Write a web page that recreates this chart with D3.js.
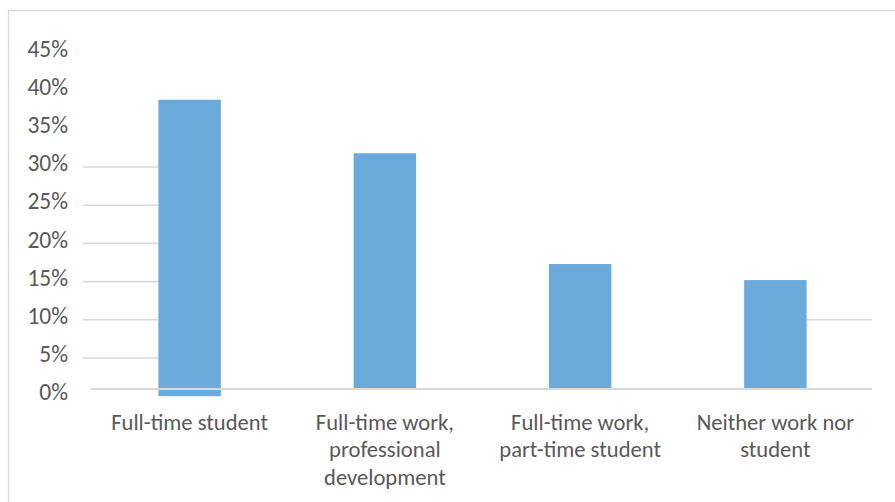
<!DOCTYPE html>
<html>
<head>
<meta charset="utf-8">
<script src="https://cdn.jsdelivr.net/npm/d3@7"></script>
<style>
  html, body { margin: 0; padding: 0; background: #fff; }
  svg { display: block; }
  text { font-family: Carlito, Lato, "Open Sans", sans-serif; fill: #595959; }
</style>
</head>
<body>
<svg id="chart" width="895" height="502"></svg>
<script>
// Share of respondents by current activity
const categories = [
  ["Full-time student"],
  ["Full-time work,", "professional", "development"],
  ["Full-time work,", "part-time student"],
  ["Neither work nor", "student"]
];
const shares = [0.388, 0.318, 0.173, 0.152];
const tickValues = [0, 0.05, 0.10, 0.15, 0.20, 0.25, 0.30, 0.35, 0.40, 0.45];
const gridTicks = [0.05, 0.10, 0.15, 0.20, 0.25, 0.30];

const svg = d3.select("#chart");
const W = 895, H = 502;

const plot = { left: 92, right: 873, top: 52.4, bottom: 396.2 };
const baselineY = 389;

const x = d3.scaleBand()
  .domain(d3.range(categories.length))
  .range([plot.left, plot.right])
  .paddingInner(0.68)
  .paddingOuter(0.34);

const y = d3.scaleLinear()
  .domain([0, 0.45])
  .range([plot.bottom, plot.top]);

// chart area frame (top and left edges visible)
svg.append("path")
  .attr("d", `M8.5,${H} V10.5 H${W}`)
  .attr("fill", "none")
  .attr("stroke", "#d9d9d9")
  .attr("stroke-width", 1.5);

// horizontal gridlines, left of the first column
const firstLeft = x(0);
svg.append("g").selectAll("line")
  .data(gridTicks)
  .join("line")
  .attr("x1", 83).attr("x2", firstLeft)
  .attr("y1", d => y(d)).attr("y2", d => y(d))
  .attr("stroke", "#d9d9d9")
  .attr("stroke-width", 1.6);

// short gridline segment right of the last column
const lastRight = x(categories.length - 1) + x.bandwidth();
svg.append("line")
  .attr("x1", lastRight).attr("x2", plot.right - 1)
  .attr("y1", y(0.10)).attr("y2", y(0.10))
  .attr("stroke", "#d9d9d9")
  .attr("stroke-width", 1.6);

// columns
svg.append("g").selectAll("rect")
  .data(shares)
  .join("rect")
  .attr("x", (d, i) => x(i))
  .attr("width", x.bandwidth())
  .attr("y", d => y(d))
  .attr("height", (d, i) => (i === 0 ? y(0) : baselineY - 1) - y(d))
  .attr("fill", "#6aabdb");

// category axis line
svg.append("line")
  .attr("x1", plot.left - 1).attr("x2", plot.right - 1)
  .attr("y1", baselineY).attr("y2", baselineY)
  .attr("stroke", "#d9d9d9")
  .attr("stroke-width", 2);

// value axis labels
const yAxis = d3.axisLeft(y)
  .tickValues(tickValues)
  .tickFormat(d3.format(".0%"))
  .tickSize(0)
  .tickPadding(0);
const yg = svg.append("g").attr("transform", "translate(68,0)").call(yAxis);
yg.select(".domain").remove();
yg.selectAll("text")
  .attr("dy", "0.35em")
  .attr("y", -4.5)
  .attr("fill", "#595959")
  .style("font-size", "23.5px")
  .style("font-family", "Carlito, Lato, 'Open Sans', sans-serif");

// category labels
const labels = svg.append("g").selectAll("text")
  .data(categories)
  .join("text")
  .attr("text-anchor", "middle")
  .attr("x", (d, i) => x(i) + x.bandwidth() / 2)
  .attr("y", 429.5)
  .style("font-size", "22.6px");
labels.selectAll("tspan")
  .data(d => d)
  .join("tspan")
  .attr("x", function () { return this.parentNode.getAttribute("x"); })
  .attr("dy", (d, i) => i === 0 ? 0 : 27.5)
  .text(d => d);
</script>
</body>
</html>
